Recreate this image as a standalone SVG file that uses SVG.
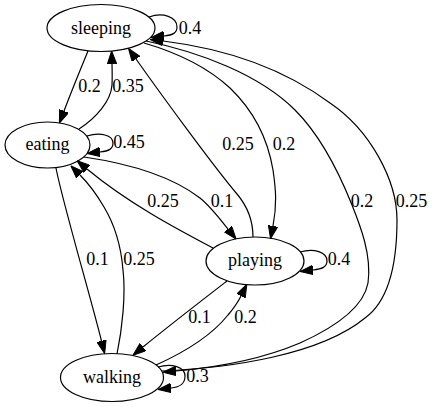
<svg xmlns="http://www.w3.org/2000/svg" width="434" height="407" viewBox="0 0 434 407">
<defs>
<style>
.node ellipse{fill:none;stroke:#000;stroke-width:1.2}
.node text{font-family:'Liberation Serif','DejaVu Serif',serif;font-size:18px;text-anchor:middle;fill:#000}
.edge path{fill:none;stroke:#000;stroke-width:1.2;marker-end:url(#arr)}
.lbl{font-family:'Liberation Serif','DejaVu Serif',serif;font-size:18px;text-anchor:middle;fill:#000}
</style>
<marker id="arr" viewBox="0 0 13 10" markerWidth="13" markerHeight="10" refX="0" refY="5" orient="auto" markerUnits="userSpaceOnUse">
<path d="M0,0.3 L13,5 L0,9.7 Z" fill="#000" stroke="#000" stroke-width="1"/>
</marker>
</defs>
<rect width="434" height="407" fill="#fff"/>
<g id="edges" class="edge">
<path d="M149,17 C163,12 177,17 177,27 C177,33 173,35 164,36"/>
<path d="M88,51 C81,68 72,90 64,111"/>
<path d="M79,129 C96,118 111,101 112,85 C112.3,78 112.2,71 112,64"/>
<path d="M87,136 C100,132 113,135 113,143 C113,149 109,151 100,152"/>
<path d="M84,157 C125,163 170,175 200,198 C210,206 220,219 228,229"/>
<path d="M213,248 C175,228 128,203 87,169"/>
<path d="M117,354 C122,330 126,295 123,270 C121,245 113,222 104,207 C97,195 89,184 80,175"/>
<path d="M56,168 C62,200 90,295 101.5,341"/>
<path d="M227,281 C205,298 170,325 143,347"/>
<path d="M156,365 C185,352 212,335 228,315 C234,308 238,302 241,296"/>
<path d="M144,43 C175,52 205,65 230,88 C255,112 268,140 273,170 C276,190 277,205 273,226"/>
<path d="M253,237 C253,222 248,207 237,194 C215,168 165,100 136,59"/>
<path d="M146,41 C200,52 260,75 295,110 C320,135 340,175 352,205 C360,225 372,255 368,283 C364,305 340,325 300,343 C260,360 210,368 176,371"/>
<path d="M162,371 C230,368 320,355 365,318 C390,300 397,260 397,220 C397,180 370,130 330,103 C280,66 220,48 163,41"/>
<path d="M158,367 C172,363 185,367 185,376 C185,384 180,387 171,388"/>
<path d="M300,252 C314,248 327,252 327,261 C327,267 322,269 313,270"/>
<text class="lbl" x="190" y="34">0.4</text>
<text class="lbl" x="89.5" y="92">0.2</text>
<text class="lbl" x="128" y="92">0.35</text>
<text class="lbl" x="129" y="148">0.45</text>
<text class="lbl" x="163" y="207">0.25</text>
<text class="lbl" x="222" y="207">0.1</text>
<text class="lbl" x="238" y="150">0.25</text>
<text class="lbl" x="284" y="150">0.2</text>
<text class="lbl" x="362" y="207">0.2</text>
<text class="lbl" x="411.5" y="207">0.25</text>
<text class="lbl" x="339" y="265">0.4</text>
<text class="lbl" x="97.5" y="265">0.1</text>
<text class="lbl" x="139" y="265">0.25</text>
<text class="lbl" x="199.5" y="323">0.1</text>
<text class="lbl" x="245.5" y="323">0.2</text>
<text class="lbl" x="197.5" y="382">0.3</text>
</g>
<g id="node-sleeping" class="node"><ellipse cx="101" cy="28" rx="54" ry="23.5"/><text x="101" y="33.5">sleeping</text></g>
<g id="node-eating" class="node"><ellipse cx="47.5" cy="145" rx="42.5" ry="23"/><text x="47.5" y="150">eating</text></g>
<g id="node-playing" class="node"><ellipse cx="255" cy="261" rx="49" ry="24"/><text x="255" y="266">playing</text></g>
<g id="node-walking" class="node"><ellipse cx="112" cy="377.5" rx="51.5" ry="24"/><text x="112" y="382.5">walking</text></g>
</svg>
